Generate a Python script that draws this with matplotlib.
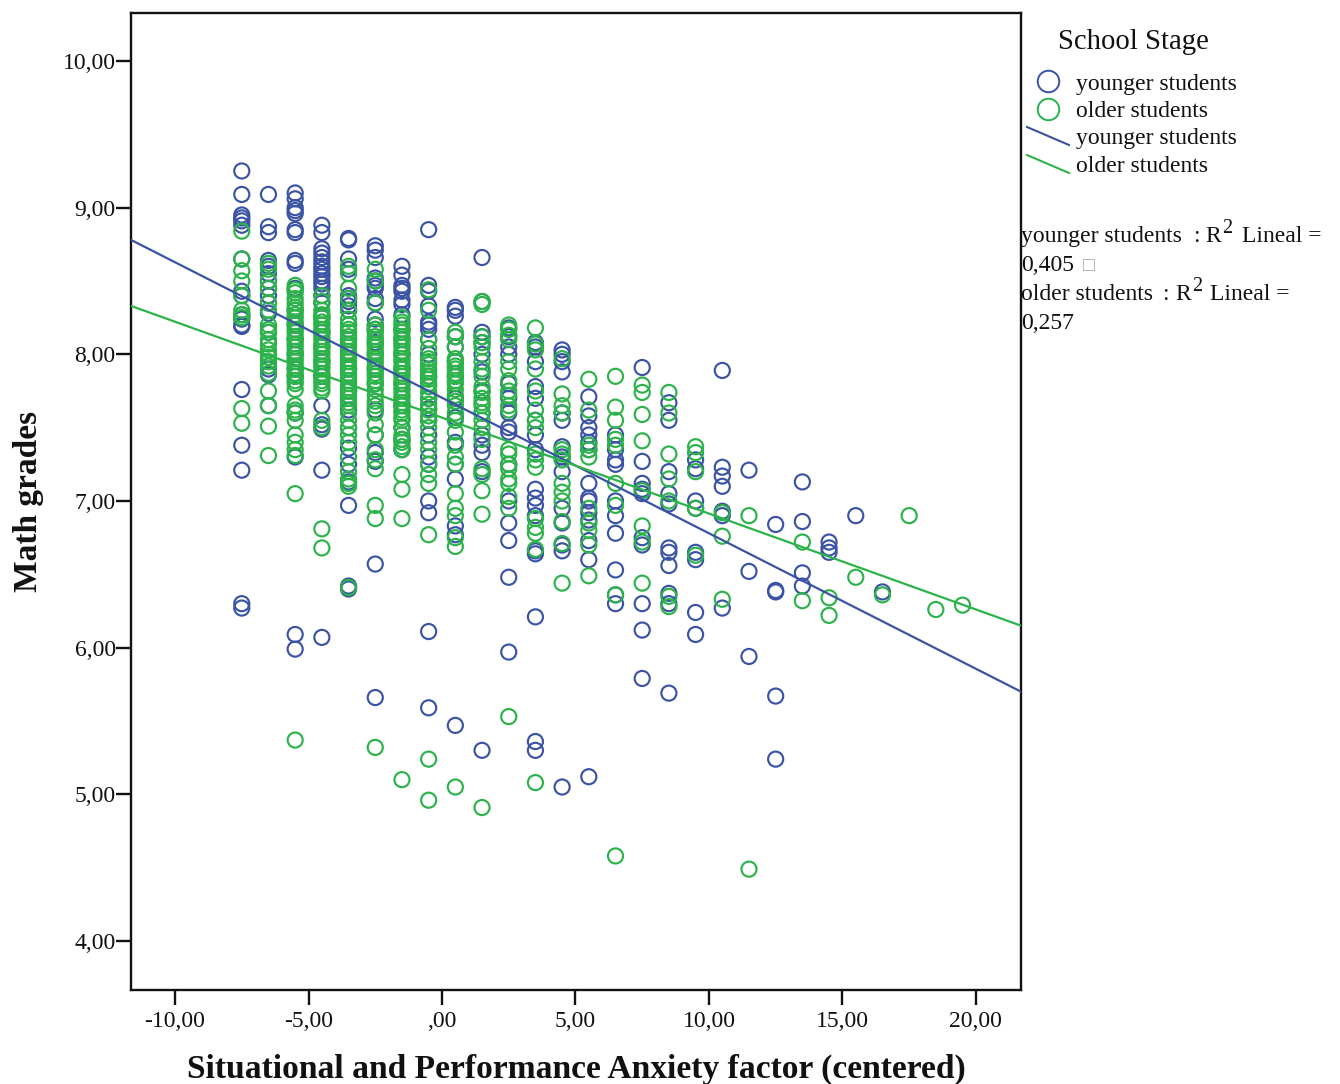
import matplotlib
matplotlib.use("Agg")
import matplotlib.pyplot as plt
from matplotlib.lines import Line2D

plt.rcParams["font.family"] = ["Liberation Serif", "DejaVu Sans"]

AZUL = "#3a53a4"
VERDE = "#2bb34a"
NEGRO = "#111111"
W, H = 1340, 1084

# Valores: cada columna es un valor del factor de ansiedad
younger = {
    -7.5: [9.25, 9.09, 8.95, 8.93, 8.91, 8.88, 8.65, 8.43, 8.40, 8.27, 8.24, 8.20, 8.19, 7.76, 7.38, 7.21, 6.30, 6.27],
    -6.5: [9.09, 8.87, 8.83, 8.64, 8.60, 8.55, 8.50, 8.45, 8.40, 8.35, 8.28, 8.15, 7.90, 7.86, 7.65],
    -5.5: [9.10, 9.06, 9.00, 8.98, 8.96, 8.85, 8.83, 8.64, 8.62, 8.45, 8.30, 8.20, 8.10, 8.00, 7.90, 7.85, 7.60, 7.30, 6.09, 5.99],
    -4.5: [8.88, 8.83, 8.72, 8.69, 8.66, 8.63, 8.60, 8.58, 8.55, 8.53, 8.50, 8.48, 8.45, 8.40, 8.35, 8.25, 8.15, 8.05, 7.95, 7.85, 7.65, 7.52, 7.49, 7.21, 6.07],
    -3.5: [8.79, 8.78, 8.65, 8.58, 8.40, 8.38, 8.36, 8.33, 8.30, 8.20, 8.10, 8.00, 7.90, 7.75, 7.62, 7.50, 7.36, 7.25, 7.13, 6.97, 6.42, 6.40],
    -2.5: [8.74, 8.71, 8.66, 8.52, 8.50, 8.47, 8.45, 8.38, 8.35, 8.24, 8.20, 8.17, 8.08, 8.00, 7.90, 7.80, 7.62, 7.45, 7.33, 7.27, 6.57, 5.66],
    -1.5: [8.60, 8.54, 8.47, 8.45, 8.43, 8.37, 8.34, 8.27, 8.17, 8.10, 8.00, 7.90, 7.80, 7.65, 7.50, 7.42, 7.35],
    -0.5: [8.85, 8.47, 8.43, 8.33, 8.22, 8.20, 8.17, 8.10, 8.00, 7.85, 7.70, 7.63, 7.55, 7.45, 7.30, 7.25, 7.00, 6.92, 6.11, 5.59],
    0.5: [8.32, 8.30, 8.26, 8.12, 8.05, 7.95, 7.85, 7.70, 7.57, 7.40, 7.25, 7.15, 6.83, 6.77, 5.47],
    1.5: [8.66, 8.36, 8.15, 8.12, 8.08, 8.00, 7.88, 7.75, 7.60, 7.45, 7.38, 7.33, 7.20, 5.30],
    2.5: [8.18, 8.12, 8.05, 8.00, 7.80, 7.70, 7.60, 7.50, 7.47, 7.25, 7.00, 6.85, 6.73, 6.48, 5.97],
    3.5: [8.08, 8.05, 7.95, 7.78, 7.70, 7.55, 7.45, 7.35, 7.08, 7.02, 6.97, 6.90, 6.66, 6.64, 6.21, 5.36, 5.30],
    4.5: [8.03, 8.00, 7.95, 7.88, 7.60, 7.55, 7.37, 7.30, 7.20, 6.95, 6.85, 6.70, 6.66, 5.05],
    5.5: [7.71, 7.58, 7.50, 7.45, 7.40, 7.35, 7.12, 7.02, 7.00, 6.92, 6.87, 6.73, 6.60, 5.12],
    6.5: [7.45, 7.35, 7.28, 7.25, 7.00, 6.90, 6.78, 6.53, 6.36, 6.30],
    7.5: [7.91, 7.27, 7.12, 7.08, 7.05, 6.75, 6.70, 6.30, 6.12, 5.79],
    8.5: [7.67, 7.55, 7.20, 7.05, 6.98, 6.68, 6.65, 6.56, 6.37, 6.30, 5.69],
    9.5: [7.28, 7.22, 7.00, 6.95, 6.65, 6.60, 6.24, 6.09],
    10.5: [7.89, 7.23, 7.17, 7.10, 6.93, 6.90, 6.27],
    11.5: [7.21, 6.52, 5.94],
    12.5: [6.84, 6.39, 6.38, 5.67, 5.24],
    13.5: [7.13, 6.86, 6.51, 6.42],
    14.5: [6.72, 6.68, 6.65],
    15.5: [6.90],
    16.5: [6.38],
}
older = {
    -7.5: [8.84, 8.65, 8.57, 8.50, 8.40, 8.30, 8.27, 8.25, 7.63, 7.53],
    -6.5: [8.62, 8.58, 8.50, 8.45, 8.35, 8.30, 8.20, 8.17, 8.15, 8.10, 8.07, 8.03, 8.00, 7.98, 7.95, 7.92, 7.87, 7.75, 7.65, 7.51, 7.31],
    -5.5: [8.47, 8.44, 8.42, 8.38, 8.35, 8.32, 8.30, 8.27, 8.25, 8.22, 8.20, 8.17, 8.15, 8.12, 8.10, 8.07, 8.05, 8.02, 8.00, 7.97, 7.95, 7.92, 7.90, 7.87, 7.85, 7.82, 7.80, 7.76, 7.65, 7.62, 7.60, 7.55, 7.45, 7.40, 7.35, 7.31, 7.05, 5.37],
    -4.5: [8.40, 8.36, 8.30, 8.27, 8.25, 8.22, 8.20, 8.17, 8.15, 8.12, 8.10, 8.07, 8.05, 8.02, 8.00, 7.97, 7.95, 7.92, 7.90, 7.87, 7.85, 7.82, 7.80, 7.77, 7.75, 7.55, 7.50, 6.81, 6.68],
    -3.5: [8.60, 8.55, 8.45, 8.38, 8.30, 8.24, 8.20, 8.17, 8.15, 8.12, 8.10, 8.07, 8.05, 8.02, 8.00, 7.97, 7.95, 7.92, 7.90, 7.87, 7.85, 7.82, 7.80, 7.77, 7.75, 7.72, 7.70, 7.67, 7.65, 7.60, 7.55, 7.50, 7.45, 7.40, 7.30, 7.20, 7.15, 7.12, 7.10, 6.41],
    -2.5: [8.58, 8.50, 8.35, 8.20, 8.17, 8.15, 8.12, 8.10, 8.07, 8.05, 8.02, 8.00, 7.97, 7.95, 7.92, 7.90, 7.87, 7.85, 7.82, 7.80, 7.76, 7.72, 7.68, 7.65, 7.60, 7.52, 7.45, 7.35, 7.28, 7.22, 6.97, 6.88, 5.32],
    -1.5: [8.25, 8.22, 8.20, 8.17, 8.15, 8.12, 8.10, 8.07, 8.05, 8.02, 8.00, 7.97, 7.95, 7.92, 7.90, 7.87, 7.85, 7.82, 7.80, 7.77, 7.75, 7.72, 7.70, 7.67, 7.65, 7.62, 7.60, 7.57, 7.55, 7.50, 7.45, 7.42, 7.40, 7.37, 7.35, 7.18, 7.08, 6.88, 5.10],
    -0.5: [8.44, 8.30, 8.10, 8.04, 7.97, 7.95, 7.93, 7.90, 7.88, 7.85, 7.83, 7.80, 7.78, 7.74, 7.70, 7.66, 7.62, 7.58, 7.55, 7.50, 7.40, 7.35, 7.25, 7.18, 7.12, 6.77, 5.24, 4.96],
    0.5: [8.15, 8.12, 8.05, 7.97, 7.95, 7.92, 7.90, 7.87, 7.85, 7.82, 7.80, 7.76, 7.72, 7.68, 7.65, 7.60, 7.55, 7.47, 7.38, 7.30, 7.25, 7.05, 6.95, 6.90, 6.75, 6.69, 5.05],
    1.5: [8.36, 8.34, 8.12, 8.08, 8.05, 7.95, 7.90, 7.85, 7.78, 7.74, 7.70, 7.67, 7.65, 7.60, 7.55, 7.50, 7.42, 7.22, 7.18, 7.07, 6.91, 4.91],
    2.5: [8.20, 8.17, 8.13, 8.10, 7.95, 7.90, 7.82, 7.75, 7.72, 7.65, 7.62, 7.35, 7.32, 7.25, 7.22, 7.15, 7.12, 7.03, 6.95, 5.53],
    3.5: [8.18, 8.07, 8.03, 7.90, 7.75, 7.62, 7.55, 7.50, 7.32, 7.28, 7.23, 6.88, 6.82, 6.78, 6.67, 5.08],
    4.5: [7.97, 7.73, 7.65, 7.60, 7.35, 7.32, 7.28, 7.12, 7.06, 7.00, 6.86, 6.71, 6.44],
    5.5: [7.83, 7.62, 7.38, 7.35, 7.30, 6.95, 6.85, 6.80, 6.70, 6.49],
    6.5: [7.85, 7.64, 7.55, 7.42, 7.38, 7.12, 6.97, 6.36, 4.58],
    7.5: [7.79, 7.74, 7.59, 7.41, 7.07, 6.83, 6.72, 6.44],
    8.5: [7.74, 7.60, 7.32, 7.15, 7.00, 6.35, 6.28],
    9.5: [7.37, 7.33, 7.20, 6.95, 6.63],
    10.5: [6.92, 6.76, 6.33],
    11.5: [6.90, 4.49],
    13.5: [6.72, 6.32],
    14.5: [6.34, 6.22],
    15.5: [6.48],
    16.5: [6.36],
    17.5: [6.90],
    18.5: [6.26],
    19.5: [6.29],
}

# Rectas de ajuste en los extremos del eje
x_limits = [-11.65, 21.69]
y_limits = [3.666, 10.327]
fit_younger = [8.78, 5.70]
fit_older = [8.33, 6.15]

x_ticks = [-10, -5, 0, 5, 10, 15, 20]
x_labels = ["-10,00", "-5,00", ",00", "5,00", "10,00", "15,00", "20,00"]
y_ticks = [4, 5, 6, 7, 8, 9, 10]
y_labels = ["4,00", "5,00", "6,00", "7,00", "8,00", "9,00", "10,00"]


def px(x, y):
    return x / W, 1 - y / H


def texto(x, y, s, size=17, **kw):
    fig.text(*px(x, y), s, ha="left", va="baseline", fontsize=size, color=NEGRO, **kw)


fig = plt.figure(figsize=(W / 100, H / 100), dpi=100)
ax = fig.add_axes([131 / W, 1 - 990 / H, 890 / W, 977 / H])

for datos, color in [(younger, AZUL), (older, VERDE)]:
    for x, valores in datos.items():
        ax.scatter([x] * len(valores), valores, s=118, facecolors="none",
                   edgecolors=color, linewidths=1.55, zorder=2)

ax.plot(x_limits, fit_younger, color=AZUL, lw=1.6, zorder=3)
ax.plot(x_limits, fit_older, color=VERDE, lw=1.6, zorder=3)

ax.set_xlim(x_limits)
ax.set_ylim(y_limits)
ax.set_xticks(x_ticks)
ax.set_xticklabels(x_labels)
ax.set_yticks(y_ticks)
ax.set_yticklabels(y_labels)
ax.tick_params(axis="both", length=11, width=1.7, labelsize=17, color=NEGRO, labelcolor=NEGRO)
ax.tick_params(axis="x", pad=4)
ax.tick_params(axis="y", pad=0)
for s in ax.spines.values():
    s.set_linewidth(1.7)
    s.set_color(NEGRO)

fig.text(*px(576, 1069), "Situational and Performance Anxiety factor (centered)",
         ha="center", va="center", fontsize=24.1, fontweight="bold", color=NEGRO)
fig.text(*px(29, 501), "Math grades", rotation=90, ha="center", va="center",
         fontsize=24, fontweight="bold", color=NEGRO)

# Leyenda
texto(1058, 49, "School Stage", size=20.7)
etiquetas = ["younger students", "older students", "younger students", "older students"]
for y, etiqueta in zip([90, 117, 144, 172], etiquetas):
    texto(1076, y, etiqueta)
for y, color in [(81, AZUL), (109, VERDE)]:
    fig.add_artist(Line2D(*zip(px(1047.5, y)), marker="o", ms=15.5, mfc="none", mec=color,
                          mew=1.4, transform=fig.transFigure))
for y0, color in [(127, AZUL), (155, VERDE)]:
    a, b = px(1027, y0), px(1069, y0 + 18)
    fig.add_artist(Line2D([a[0], b[0]], [a[1], b[1]], color=color, lw=1.5, transform=fig.transFigure))

# Texto de R2, con el exponente aparte porque es mas grande que en mathtext
texto(1021, 242, "younger students")
texto(1193, 242, ":")
texto(1205, 242, "R")
texto(1222, 233, "2", size=14.5)
texto(1242, 242, "Lineal =")
texto(1021, 271, "0,405")
texto(1083, 271, "\u25a1", size=14, alpha=0.4)
texto(1021, 300, "older students")
texto(1162, 300, ":")
texto(1175, 300, "R")
texto(1192, 291, "2", size=14.5)
texto(1210, 300, "Lineal =")
texto(1021, 329, "0,257")

fig.savefig("out.png", dpi=100)
